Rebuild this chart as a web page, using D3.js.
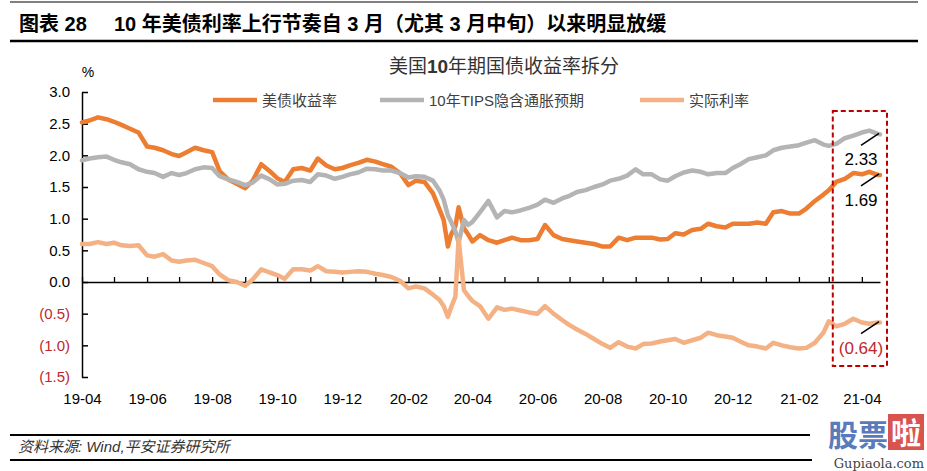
<!DOCTYPE html>
<html><head><meta charset="utf-8">
<script src="https://cdn.jsdelivr.net/npm/d3@7"></script>
<style>body{margin:0;background:#fff} svg{display:block}</style>
</head><body>
<svg id="c" width="927" height="471"></svg>
<script>
// ---------- DATA ----------
const dates = [
"2019-04-01","2019-04-08","2019-04-16","2019-04-24","2019-05-01","2019-05-08","2019-05-16","2019-05-24",
"2019-06-01","2019-06-08","2019-06-16","2019-06-24","2019-07-01","2019-07-08","2019-07-16","2019-07-24",
"2019-08-01","2019-08-08","2019-08-16","2019-08-24","2019-09-01","2019-09-08","2019-09-16","2019-09-24",
"2019-10-01","2019-10-08","2019-10-16","2019-10-24","2019-11-01","2019-11-08","2019-11-16","2019-11-24",
"2019-12-01","2019-12-08","2019-12-16","2019-12-24","2020-01-01","2020-01-08","2020-01-16","2020-01-24",
"2020-02-01","2020-02-08","2020-02-16","2020-02-24",
"2020-03-01","2020-03-05","2020-03-09","2020-03-12","2020-03-16","2020-03-19","2020-03-24","2020-03-28",
"2020-04-01","2020-04-08","2020-04-16","2020-04-24","2020-05-01","2020-05-08","2020-05-16","2020-05-24",
"2020-06-01","2020-06-08","2020-06-16","2020-06-24","2020-07-01","2020-07-08","2020-07-16","2020-07-24",
"2020-08-01","2020-08-08","2020-08-16","2020-08-24","2020-09-01","2020-09-08","2020-09-16","2020-09-24",
"2020-10-01","2020-10-08","2020-10-16","2020-10-24","2020-11-01","2020-11-08","2020-11-16","2020-11-24",
"2020-12-01","2020-12-08","2020-12-16","2020-12-24","2021-01-01","2021-01-08","2021-01-16","2021-01-24",
"2021-02-01","2021-02-08","2021-02-16","2021-02-24","2021-03-01","2021-03-08","2021-03-16","2021-03-24",
"2021-04-01","2021-04-08","2021-04-16","2021-04-18"];

// 美债收益率
const nominal = [
2.52,2.55,2.60,2.57, 2.53,2.48,2.42,2.36, 2.14,2.12,2.08,2.02, 1.99,2.05,2.12,2.08,
2.05,1.75,1.62,1.55, 1.48,1.60,1.86,1.75, 1.64,1.58,1.78,1.80, 1.76,1.95,1.84,1.78,
1.80,1.84,1.88,1.93, 1.90,1.86,1.82,1.72, 1.53,1.60,1.58,1.40,
1.15,0.98,0.56,0.75,0.88,1.18,0.85,0.75,
0.64,0.74,0.66,0.62, 0.66,0.70,0.66,0.66, 0.68,0.90,0.74,0.68, 0.66,0.64,0.62,0.60,
0.56,0.56,0.70,0.66, 0.70,0.70,0.70,0.67, 0.68,0.77,0.75,0.82, 0.84,0.92,0.88,0.86,
0.92,0.92,0.92,0.94, 0.92,1.10,1.12,1.08, 1.08,1.16,1.28,1.38, 1.45,1.58,1.63,1.72,
1.70,1.74,1.69,1.69];

// 10年TIPS隐含通胀预期
const breakeven = [
1.92,1.95,1.97,1.98, 1.93,1.89,1.86,1.78, 1.74,1.72,1.66,1.72, 1.69,1.72,1.78,1.81,
1.80,1.67,1.62,1.58, 1.53,1.57,1.68,1.62, 1.54,1.55,1.60,1.61, 1.58,1.70,1.68,1.63,
1.66,1.70,1.73,1.79, 1.78,1.76,1.76,1.72, 1.65,1.67,1.66,1.60,
1.45,1.30,1.05,0.95,0.80,0.62,0.98,0.90,
0.95,1.10,1.28,1.02, 1.12,1.10,1.13,1.17, 1.22,1.30,1.25,1.32, 1.36,1.42,1.45,1.50,
1.54,1.60,1.63,1.68, 1.78,1.70,1.70,1.62, 1.60,1.67,1.73,1.76, 1.74,1.70,1.72,1.72,
1.80,1.86,1.94,1.97, 2.00,2.08,2.12,2.14, 2.16,2.20,2.24,2.17, 2.15,2.18,2.27,2.31,
2.36,2.39,2.34,2.33];

// 实际利率
const realRate = [
0.60,0.60,0.63,0.60, 0.62,0.58,0.57,0.58, 0.42,0.40,0.44,0.34, 0.32,0.34,0.35,0.30,
0.25,0.12,0.03,0.00, -0.06,0.04,0.20,0.15, 0.11,0.05,0.20,0.20, 0.18,0.25,0.17,0.16,
0.15,0.16,0.17,0.16, 0.13,0.11,0.08,0.02, -0.10,-0.07,-0.10,-0.20,
-0.28,-0.38,-0.55,-0.40,-0.23,0.68,-0.13,-0.22,
-0.30,-0.38,-0.58,-0.40, -0.44,-0.42,-0.45,-0.48, -0.50,-0.38,-0.50,-0.60, -0.68,-0.75,-0.82,-0.90,
-0.98,-1.04,-0.95,-1.02, -1.05,-0.98,-0.97,-0.94, -0.92,-0.90,-0.96,-0.92, -0.88,-0.80,-0.84,-0.86,
-0.88,-0.94,-1.00,-1.02, -1.05,-0.96,-1.00,-1.03, -1.05,-1.04,-0.96,-0.80, -0.62,-0.70,-0.66,-0.58,
-0.64,-0.66,-0.64,-0.64];

const yTicks = [3.0,2.5,2.0,1.5,1.0,0.5,0.0,-0.5,-1.0,-1.5];
const seriesNames = ["美债收益率","10年TIPS隐含通胀预期","实际利率"];
const seriesColors = ["#ED7D31","#B4B4B4","#F4B183"];
const endLabels = ["2.33","1.69","(0.64)"];
const titleNum = "图表 28";
const titleText = "10 年美债利率上行节奏自 3 月（尤其 3 月中旬）以来明显放缓";
const chartTitle = ["美国","10","年期国债收益率拆分"];
const sourceText = "资料来源: Wind,平安证券研究所";

// ---------- DRAW ----------
const svg = d3.select("#c");
const FONT = "'Liberation Sans', Arial, 'Noto Sans CJK SC', sans-serif";
const parse = d3.timeParse("%Y-%m-%d");
const D = dates.map(parse);

const x = d3.scaleTime().domain([parse("2019-04-01"), parse("2021-04-18")]).range([82, 880]);
const y = d3.scaleLinear().domain([-1.5, 3.0]).range([377, 92]);

svg.append("rect").attr("width",927).attr("height",471).attr("fill","#fff");

// header
svg.append("line").attr("x1",10).attr("x2",918).attr("y1",2).attr("y2",2).attr("stroke","#000").attr("stroke-width",1);
svg.append("text").attr("x",19).attr("y",31).attr("font-family",FONT).attr("font-weight","bold")
  .attr("font-size",20).attr("fill","#000").text(titleNum);
svg.append("text").attr("x",114).attr("y",31).attr("font-family",FONT).attr("font-weight","bold")
  .attr("font-size",20).attr("fill","#000").text(titleText);
svg.append("line").attr("x1",10).attr("x2",918).attr("y1",41).attr("y2",41).attr("stroke","#000").attr("stroke-width",2.5);

// chart title
const ct = svg.append("text").attr("x",504).attr("y",73).attr("text-anchor","middle")
  .attr("font-family","'Noto Sans CJK SC', sans-serif").attr("font-size",19).attr("fill","#333");
ct.append("tspan").text(chartTitle[0]);
ct.append("tspan").attr("font-weight","bold").attr("font-family",FONT).text(chartTitle[1]);
ct.append("tspan").text(chartTitle[2]);

// legend
const legX = [213, 380, 640];
seriesNames.forEach((n,i)=>{
  const g = svg.append("g").attr("transform",`translate(${legX[i]},100)`);
  g.append("line").attr("x1",0).attr("x2",44).attr("stroke",seriesColors[i]).attr("stroke-width",4.5);
  g.append("text").attr("x",49).attr("y",5.5).attr("font-family",FONT).attr("font-size",15)
    .attr("fill","#404040").text(n);
});

// % unit
svg.append("text").attr("x",88).attr("y",77).attr("text-anchor","middle").attr("font-family",FONT)
  .attr("font-size",14).attr("fill","#000").text("%");

// y axis
const fmt = v => v < 0 ? "(" + Math.abs(v).toFixed(1) + ")" : v.toFixed(1);
const yAxis = svg.append("g").attr("transform","translate(82,0)")
  .call(d3.axisLeft(y).tickValues(yTicks).tickFormat(fmt).tickSizeInner(-6).tickSizeOuter(0).tickPadding(12));
yAxis.select(".domain").attr("stroke","#000").attr("stroke-width",1.5);
yAxis.selectAll(".tick line").attr("stroke","#000").attr("stroke-width",1.5);
yAxis.selectAll(".tick text").attr("font-family",FONT).attr("font-size",15)
  .attr("fill", d => d < 0 ? "#C0272D" : "#000");

// x axis (monthly ticks on zero line)
const months = d3.timeMonth.range(parse("2019-04-01"), parse("2021-04-18"));
const xAxis = svg.append("g").attr("transform",`translate(0,${y(0)})`)
  .call(d3.axisBottom(x).tickValues(months).tickSizeInner(-5).tickSizeOuter(0).tickFormat(""));
xAxis.select(".domain").attr("stroke","#000").attr("stroke-width",1.5);
xAxis.selectAll(".tick line").attr("stroke","#000").attr("stroke-width",1.3);

// x labels every 2 months
const labMonths = months.filter((d,i)=> i % 2 === 0);
const xLab = svg.append("g").attr("transform","translate(0,393)")
  .call(d3.axisBottom(x).tickValues(labMonths).tickSize(0).tickPadding(0).tickFormat(d3.timeFormat("%y-%m")));
xLab.select(".domain").remove();
xLab.selectAll(".tick text").attr("font-family",FONT).attr("font-size",15).attr("fill","#000");

// series
const seriesVals = [nominal, breakeven, realRate];
const line = d3.line().x(d=>x(d[0])).y(d=>y(d[1]));
seriesVals.forEach((vals,i)=>{
  svg.append("path").datum(D.map((d,k)=>[d, vals[k]]))
    .attr("fill","none").attr("stroke",seriesColors[i]).attr("stroke-width",4.5)
    .attr("stroke-linejoin","round").attr("stroke-linecap","round").attr("d",line);
});

// annotation box
const last = D[D.length-1];
const bx0 = x(parse("2021-03-01")) + 4, bx1 = x(last) + 7;
svg.append("rect").attr("x",bx0).attr("y",111).attr("width",bx1-bx0).attr("height",255)
  .attr("fill","none").attr("stroke","#C00000").attr("stroke-width",2).attr("stroke-dasharray","5,3");

// end labels with leader lines
const endVals = [breakeven[breakeven.length-1], nominal[nominal.length-1], realRate[realRate.length-1]];
const xe = x(last);
endVals.forEach((v,i)=>{
  const ye = y(v);
  svg.append("line").attr("x1",xe-1).attr("y1",ye-1).attr("x2",xe-19).attr("y2",ye+11)
    .attr("stroke","#000").attr("stroke-width",1.5);
  svg.append("text").attr("x",xe-19).attr("y",ye+31).attr("text-anchor","middle")
    .attr("font-family",FONT).attr("font-size",17).attr("fill", i===2 ? "#C0272D" : "#000").text(endLabels[i]);
});

// footer
svg.append("line").attr("x1",10).attr("x2",810).attr("y1",435).attr("y2",435).attr("stroke","#000").attr("stroke-width",2);
svg.append("text").attr("x",18).attr("y",452).attr("font-family",FONT).attr("font-style","italic")
  .attr("font-size",15).attr("fill","#333").text(sourceText);
svg.append("line").attr("x1",10).attr("x2",812).attr("y1",460).attr("y2",460).attr("stroke","#000").attr("stroke-width",2);

// watermark
svg.append("text").attr("x",828).attr("y",446).attr("font-family","'Noto Sans CJK SC', sans-serif")
  .attr("font-weight","bold").attr("font-size",30).attr("fill","#3E64B0").attr("opacity",0.85).text("股票");
svg.append("rect").attr("x",888).attr("y",414).attr("width",36).attr("height",36).attr("fill","#D9534F");
svg.append("text").attr("x",906).attr("y",444).attr("text-anchor","middle").attr("font-family","'Noto Sans CJK SC', sans-serif")
  .attr("font-weight","bold").attr("font-size",30).attr("fill","#fff").text("啦");
svg.append("text").attr("x",924).attr("y",468).attr("text-anchor","end").attr("font-family","'DejaVu Serif', serif")
  .attr("font-size",13).attr("fill","#444").text("Gupiaola.com");
</script>
</body></html>
